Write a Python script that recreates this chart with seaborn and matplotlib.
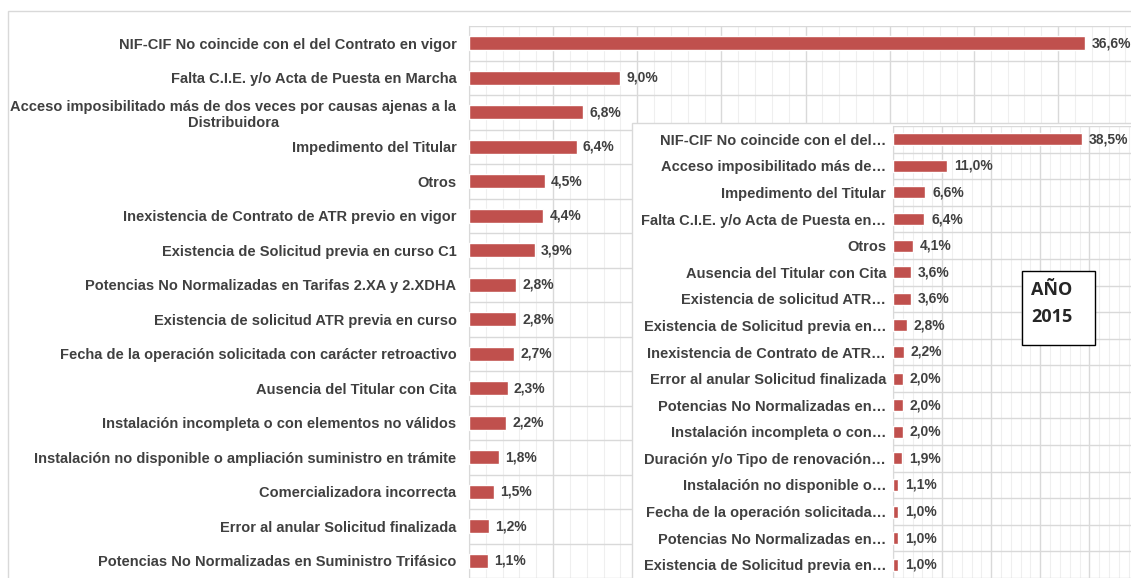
import numpy as np
import seaborn as sns
import matplotlib.pyplot as plt
from matplotlib.patches import Rectangle
from matplotlib.ticker import MultipleLocator

# Main chart data
main_labels = [
    "NIF-CIF No coincide con el del Contrato en vigor",
    "Falta C.I.E. y/o Acta de Puesta en Marcha",
    "Acceso imposibilitado más de dos veces por causas ajenas a la\nDistribuidora",
    "Impedimento del Titular",
    "Otros",
    "Inexistencia de Contrato de ATR previo en vigor",
    "Existencia de Solicitud previa en curso C1",
    "Potencias No Normalizadas en Tarifas 2.XA y 2.XDHA",
    "Existencia de solicitud ATR previa en curso",
    "Fecha de la operación solicitada con carácter retroactivo",
    "Ausencia del Titular con Cita",
    "Instalación incompleta o con elementos no válidos",
    "Instalación no disponible o ampliación suministro en trámite",
    "Comercializadora incorrecta",
    "Error al anular Solicitud finalizada",
    "Potencias No Normalizadas en Suministro Trifásico",
]
main_values = [36.6, 9.0, 6.8, 6.4, 4.5, 4.4, 3.9, 2.8, 2.8, 2.7, 2.3, 2.2, 1.8, 1.5, 1.2, 1.1]

# Inset (2015) data
inset_labels = [
    "NIF-CIF No coincide con el del…",
    "Acceso imposibilitado más de…",
    "Impedimento del Titular",
    "Falta C.I.E. y/o Acta de Puesta en…",
    "Otros",
    "Ausencia del Titular con Cita",
    "Existencia de solicitud ATR…",
    "Existencia de Solicitud previa en…",
    "Inexistencia de Contrato de ATR…",
    "Error al anular Solicitud finalizada",
    "Potencias No Normalizadas en…",
    "Instalación incompleta o con…",
    "Duración y/o Tipo de renovación…",
    "Instalación no disponible o…",
    "Fecha de la operación solicitada…",
    "Potencias No Normalizadas en…",
    "Existencia de Solicitud previa en…",
]
inset_values = [38.5, 11.0, 6.6, 6.4, 4.1, 3.6, 3.6, 2.8, 2.2, 2.0, 2.0, 2.0, 1.9, 1.1, 1.0, 1.0, 1.0]

BAR = "#C0504D"
TXT = "#404040"
GRID = "#d9d9d9"
MINOR = "#efefef"

sns.set_style("white")
plt.rcParams["font.family"] = ["Liberation Sans", "DejaVu Sans"]

W, H = 1131, 578
fig = plt.figure(figsize=(W / 100, H / 100), dpi=100)

# outer chart frame
fig.patches.append(Rectangle((8 / W, -0.01), 1.0, (H - 11) / H + 0.01, transform=fig.transFigure,
                             facecolor="none", edgecolor=GRID, lw=1, zorder=0))


def draw(ax, labels, values, xmax, major, minor, bar_h, pad, vpad):
    n = len(values)
    sns.barplot(x=values, y=np.arange(n), orient="h", color=BAR, width=bar_h,
                saturation=1, ax=ax, zorder=3)
    ax.set_xlim(0, xmax)
    ax.set_ylim(n - 0.5, -0.5)
    ax.set_yticks(np.arange(n))
    ax.set_yticklabels(labels)
    for t in ax.get_yticklabels():
        t.set_multialignment("center")
        t.set_fontweight("bold")
    ax.set_yticks(np.arange(-0.5, n), minor=True)
    ax.xaxis.set_major_locator(MultipleLocator(major))
    ax.xaxis.set_minor_locator(MultipleLocator(minor))
    ax.grid(which="minor", axis="x", color=MINOR, lw=0.8, zorder=0)
    ax.grid(which="major", axis="x", color=GRID, lw=1, zorder=0)
    ax.grid(which="minor", axis="y", color=GRID, lw=1, zorder=0)
    ax.set_axisbelow(True)
    ax.tick_params(axis="x", which="both", labelbottom=False, length=0)
    ax.tick_params(axis="y", which="both", length=0, pad=pad, labelsize=10.5, labelcolor=TXT)
    for s in ["top", "right", "bottom"]:
        ax.spines[s].set_visible(False)
    ax.spines["left"].set_color(GRID)
    ax.set_xlabel("")
    ax.set_ylabel("")
    ax.bar_label(ax.containers[0],
                 labels=[f"{v:.1f}%".replace(".", ",") for v in values],
                 padding=vpad, fontsize=10, fontweight="bold", color=TXT)


ax = fig.add_axes([469 / W, 0, (W - 469) / W, 552 / H])
draw(ax, main_labels, main_values, (W - 469) / 16.83, 5, 1, 0.42, 9, 4.5)

# inset panel background
fig.patches.append(Rectangle((632 / W, -0.01), 1.0, (H - 123) / H + 0.01, transform=fig.transFigure,
                             facecolor="white", edgecolor=GRID, lw=1, zorder=1))

ax2 = fig.add_axes([893 / W, 0, (W - 893) / W, 452 / H])
ax2.set_zorder(2)
draw(ax2, inset_labels, inset_values, (W - 893) / 4.91, 10, 2, 0.45, 5, 5)

# year box
fig.patches.append(Rectangle((1022 / W, 1 - 345 / H), 73 / W, 74 / H, transform=fig.transFigure,
                             facecolor="white", edgecolor="black", lw=1, zorder=3))
fig.text(1031 / W, 1 - 290 / H, "AÑO", fontsize=13, fontweight="bold", family="Open Sans",
         va="center", ha="left", zorder=4)
fig.text(1031 / W, 1 - 317 / H, "2015", fontsize=13, fontweight="bold", family="Open Sans",
         va="center", ha="left", zorder=4)

fig.savefig("out.png", dpi=100)
